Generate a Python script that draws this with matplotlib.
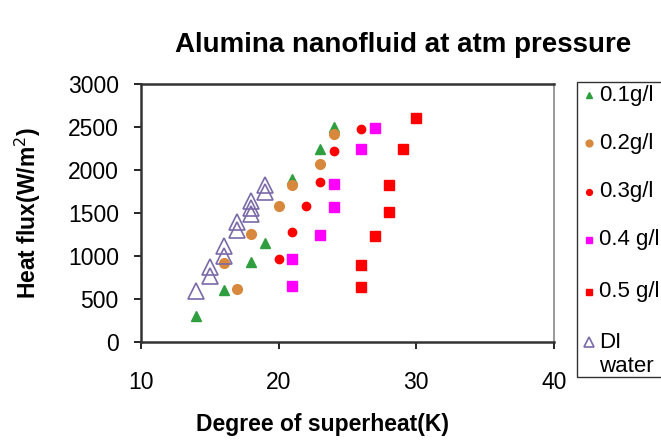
import matplotlib
matplotlib.use("Agg")
from matplotlib import pyplot as plt
from matplotlib.lines import Line2D
from matplotlib.patches import Rectangle

plt.rcParams['font.family'] = ['Liberation Sans', 'DejaVu Sans']

# data
x01 = [14, 16, 18, 19, 21, 23, 24]
y01 = [300, 600, 930, 1150, 1900, 2250, 2500]
x02 = [17, 16, 18, 20, 21, 23, 24]
y02 = [620, 920, 1260, 1580, 1830, 2070, 2420]
x03 = [20, 21, 22, 23, 24, 26]
y03 = [960, 1280, 1585, 1860, 2220, 2480]
x04 = [21, 21, 23, 24, 24, 26, 27]
y04 = [650, 960, 1250, 1570, 1840, 2240, 2490]
x05 = [26, 26, 27, 28, 28, 29, 30]
y05 = [640, 890, 1230, 1510, 1820, 2250, 2600]
xdi = [14, 15, 15, 16, 16, 17, 17, 18, 18, 18, 19, 19]
ydi = [590, 770, 870, 1000, 1120, 1300, 1400, 1490, 1560, 1640, 1740, 1830]

labels = ['0.1g/l', '0.2g/l', '0.3g/l', '0.4 g/l', '0.5 g/l', 'DI\nwater']

W, H = 661, 442
fig = plt.figure(figsize=(W / 100, H / 100), dpi=100)
ax = fig.add_axes([141 / W, 1 - 342 / H, 413 / W, 258 / H])

styles = [
    dict(marker='^', color='#2e9e3e', ms=7),
    dict(marker='o', color='#d8883c', ms=7),
    dict(marker='o', color='#ff0000', ms=6),
    dict(marker='s', color='#ff00ff', ms=7),
    dict(marker='s', color='#ff0000', ms=7),
    dict(marker='^', color='#7a6aa8', ms=11, mfc='none', mew=1.2),
]
data = [(x01, y01), (x02, y02), (x03, y03), (x04, y04), (x05, y05), (xdi, ydi)]
for (xs, ys), st in zip(data, styles):
    ax.plot(xs, ys, ls='none', **st)

ax.set_xlim(10, 40)
ax.set_ylim(0, 3000)
ax.set_xticks([10, 20, 30, 40])
ax.set_yticks(range(0, 3001, 500))
ax.tick_params(direction='out', length=5, width=1.2, labelsize=16.5)
ax.tick_params(axis='x', pad=16)
ax.tick_params(axis='y', pad=11)
for s in ['left', 'bottom', 'top']:
    ax.spines[s].set_linewidth(1.8)
    ax.spines[s].set_color('#333333')
ax.spines['right'].set_color('#888888')
ax.spines['right'].set_linewidth(1.2)

ax.set_xlabel('Degree of superheat(K)', fontsize=16.5, fontweight='bold', va='center')
ax.xaxis.set_label_coords((322 - 141) / 413, -(425 - 342) / 258)
ax.set_ylabel('Heat flux(W/m$^2$)', fontsize=16.5, fontweight='bold', va='center')
ax.yaxis.set_label_coords((28 - 141) / 413, 0.5)
fig.text(403 / W, 1 - 45 / H, 'Alumina nanofluid at atm pressure', ha='center', va='center',
         fontsize=20, fontweight='bold')

# legend box drawn by hand to match the reference spacing
fig.add_artist(Rectangle((577 / W, 1 - 377 / H), 100 / W, 295 / H, transform=fig.transFigure,
                         fill=False, edgecolor='#333333', lw=1.0))
ys_leg = [95, 143, 192, 240, 292, 342]
for lab, st, yp in zip(labels, styles, ys_leg):
    kst = dict(st)
    kst['ms'] = st['ms'] * 0.7
    fig.add_artist(Line2D([589 / W], [1 - yp / H], transform=fig.transFigure, ls='none', **kst))
    if '\n' in lab:
        first, second = lab.split('\n')
        fig.text(599 / W, 1 - yp / H, first, ha='left', va='center', fontsize=16)
        fig.text(599 / W, 1 - (yp + 25) / H, second, ha='left', va='center', fontsize=16)
    else:
        fig.text(599 / W, 1 - yp / H, lab, ha='left', va='center', fontsize=16)

fig.savefig('out.png', dpi=100)
